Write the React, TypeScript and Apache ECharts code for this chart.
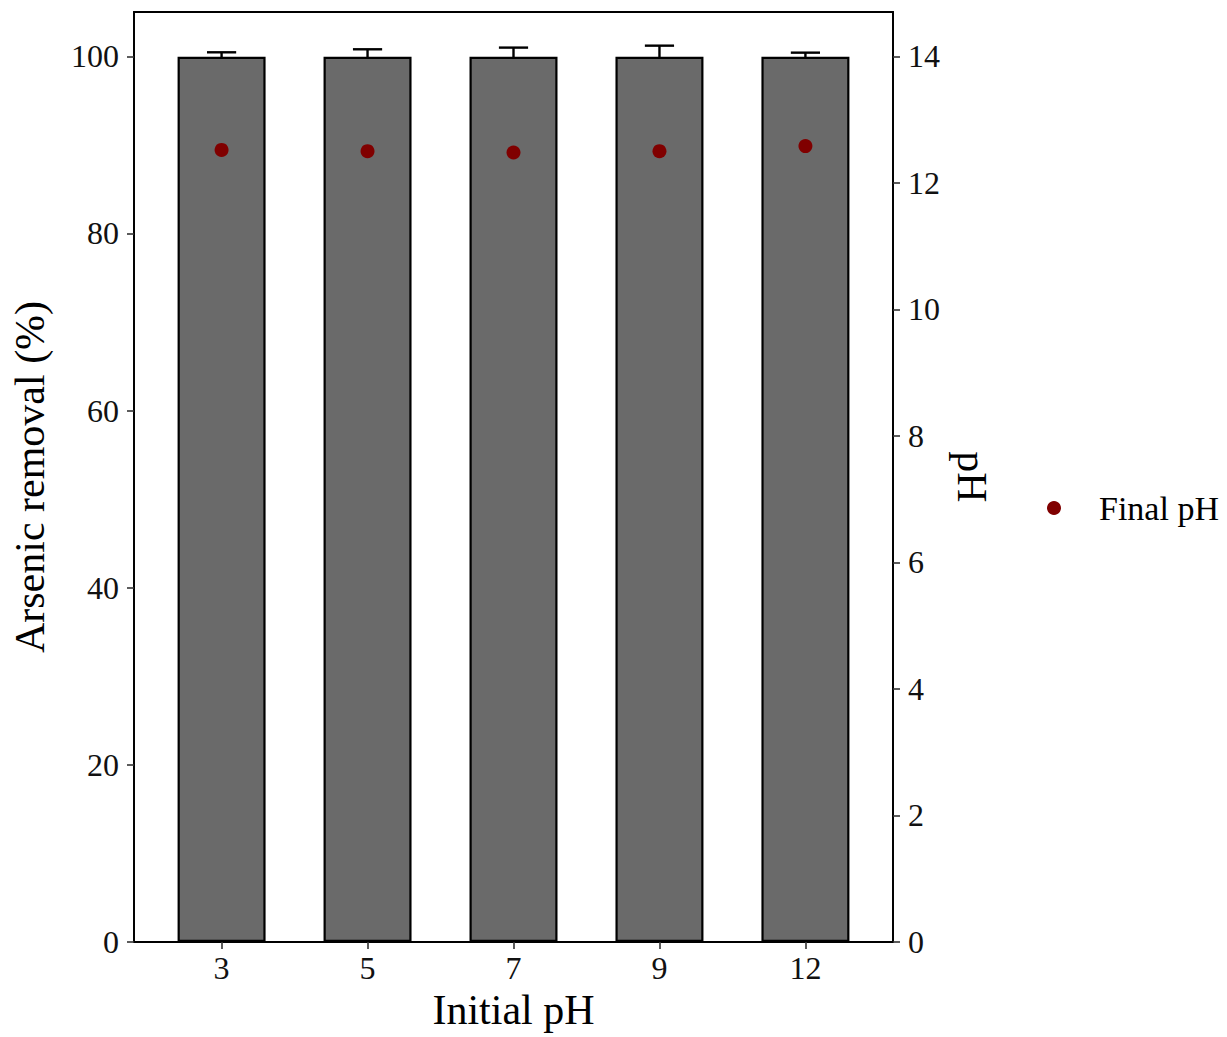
import React, { useEffect, useRef } from "react";
import * as echarts from "echarts";

// Initial pH groups and their positions on the x scale
const initialPH = ["3", "5", "7", "9", "12"];
const groupPos = [1, 2, 3, 4, 5];

// Arsenic removal (%) mean and standard deviation per group
const removalMean = [99.95, 99.95, 99.95, 99.95, 99.95];
const removalErr = [0.5, 0.84, 1.03, 1.25, 0.46];

// Final pH measured after treatment
const finalPH = [12.52, 12.5, 12.48, 12.5, 12.58];

// Tick values on the two y axes
const leftTicks = [0, 20, 40, 60, 80, 100];
const rightTicks = [0, 2, 4, 6, 8, 10, 12, 14];

const FONT = "Liberation Serif";

export default function App() {
  const ref = useRef<HTMLDivElement>(null);

  useEffect(() => {
    if (!ref.current) return;
    const chart = echarts.init(ref.current, null, { renderer: "svg" });

    const barData = groupPos.map((x, i) => [x, removalMean[i]]);
    const errData = groupPos.map((x, i) => [x, removalMean[i], removalErr[i]]);
    const pointData = groupPos.map((x, i) => [x, finalPH[i]]);

    const axisLine = { show: true, lineStyle: { color: "#000", width: 1.8 } };
    const axisTick = { show: true, length: 7, lineStyle: { color: "#333", width: 1.6 } };
    const labelStyle = { color: "#111", fontFamily: FONT, fontSize: 32 };
    const nameStyle = { color: "#000", fontFamily: FONT, fontSize: 42 };

    chart.setOption({
      animation: false,
      backgroundColor: "#fff",
      grid: {
        left: 134,
        right: 334,
        top: 12,
        bottom: 95,
        show: true,
        borderColor: "#000",
        borderWidth: 1.8,
        backgroundColor: "transparent",
      },
      legend: {
        data: ["Final pH"],
        left: 1042,
        top: 486,
        icon: "circle",
        itemWidth: 80,
        itemHeight: 14,
        textStyle: { color: "#000", fontFamily: FONT, fontSize: 34 },
      },
      xAxis: {
        type: "value",
        min: 0.4,
        max: 5.6,
        splitLine: { show: false },
        axisLine,
        axisTick: { ...axisTick, customValues: groupPos },
        axisLabel: {
          ...labelStyle,
          margin: 10,
          customValues: groupPos,
          formatter: (v: number) => initialPH[Math.round(v) - 1] ?? "",
        },
        name: "Initial pH",
        nameLocation: "middle",
        nameGap: 44,
        nameTextStyle: nameStyle,
      },
      yAxis: [
        {
          type: "value",
          min: 0,
          max: 105,
          position: "left",
          splitLine: { show: false },
          axisLine,
          axisTick: { ...axisTick, customValues: leftTicks },
          axisLabel: { ...labelStyle, margin: 15, customValues: leftTicks },
          name: "Arsenic removal (%)",
          nameLocation: "middle",
          nameGap: 83,
          nameTextStyle: nameStyle,
        },
        {
          type: "value",
          min: 0,
          max: 14.7,
          position: "right",
          splitLine: { show: false },
          axisLine,
          axisTick: { ...axisTick, customValues: rightTicks },
          axisLabel: { ...labelStyle, margin: 15, customValues: rightTicks },
          name: "pH",
          nameLocation: "middle",
          nameRotate: -90,
          nameGap: 48,
          nameTextStyle: nameStyle,
        },
      ],
      series: [
        {
          name: "Removal SD",
          type: "custom",
          xAxisIndex: 0,
          yAxisIndex: 0,
          z: 1,
          data: errData,
          renderItem: (params: any, api: any) => {
            const x = api.value(0);
            const m = api.value(1);
            const e = api.value(2);
            const top = api.coord([x, m + e]);
            const bot = api.coord([x, m - e]);
            const half = api.size([0.1, 0])[0];
            const style = { stroke: "#000", lineWidth: 2.4 };
            return {
              type: "group",
              children: [
                { type: "line", shape: { x1: top[0], y1: top[1], x2: bot[0], y2: bot[1] }, style },
                { type: "line", shape: { x1: top[0] - half, y1: top[1], x2: top[0] + half, y2: top[1] }, style },
                { type: "line", shape: { x1: bot[0] - half, y1: bot[1], x2: bot[0] + half, y2: bot[1] }, style },
              ],
            };
          },
        },
        {
          name: "Arsenic removal",
          type: "bar",
          xAxisIndex: 0,
          yAxisIndex: 0,
          z: 2,
          barWidth: 88,
          data: barData,
          itemStyle: { color: "#6a6a6a", borderColor: "#000", borderWidth: 2.2 },
        },
        {
          name: "Final pH",
          type: "scatter",
          xAxisIndex: 0,
          yAxisIndex: 1,
          z: 3,
          symbol: "circle",
          symbolSize: 14,
          data: pointData,
          itemStyle: { color: "#800000", opacity: 1 },
        },
      ],
    });

    return () => chart.dispose();
  }, []);

  return (
    <div
      ref={ref}
      style={{ position: "fixed", left: 0, top: 0, width: 1227, height: 1037, background: "#fff" }}
    />
  );
}
